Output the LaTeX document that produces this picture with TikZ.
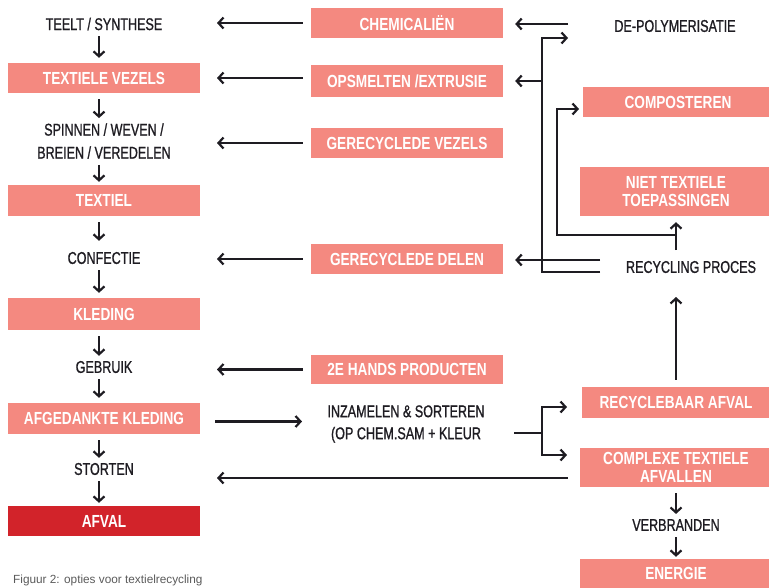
\documentclass[tikz,border=0pt]{standalone}
\usepackage{fontspec}
\setmainfont{Liberation Sans}[FakeStretch=0.74,FakeBold=1]
\newfontfamily\boxfont{Liberation Sans}[FakeStretch=0.78]
\newfontfamily\capfont{Liberation Sans}
\usetikzlibrary{arrows.meta}
\definecolor{salmon}{HTML}{F48980}
\definecolor{darkred}{HTML}{D2232A}
\definecolor{ink}{HTML}{1E1C22}
\definecolor{capgray}{HTML}{5A5A5A}
\begin{document}
\begin{tikzpicture}[x=1pt,y=-1pt,
  box/.style={fill=salmon, text=white, font=\boxfont\bfseries\fontsize{17.5}{18}\selectfont,
    minimum width=192pt, minimum height=30pt, inner sep=0pt, align=center},
  lbl/.style={text=ink, font=\fontsize{17}{18}\selectfont, inner sep=0pt, align=center},
  arr/.style={draw=ink, line width=2.2pt, -{Straight Barb[length=5pt,width=11pt]}},
  ln/.style={draw=ink, line width=2.2pt},
  vdn/.style={arr, shorten <=6pt, shorten >=5pt},
]
\useasboundingbox (0,0) rectangle (769,587);

% left column
\node[lbl] (teelt) at (104,24) {TEELT / SYNTHESE};
\node[box] (vezels) at (104,78) {TEXTIELE VEZELS};
\node[lbl, font=\fontsize{17}{23}\selectfont] (spin) at (104,141) {SPINNEN / WEVEN /\\BREIEN / VEREDELEN};
\node[box, minimum height=31pt] (textiel) at (104,200.5) {TEXTIEL};
\node[lbl] (conf) at (104,258) {CONFECTIE};
\node[box, minimum height=32pt] (kled) at (104,314) {KLEDING};
\node[lbl] (gebr) at (104,367) {GEBRUIK};
\node[box, minimum height=31pt] (afged) at (104,418.5) {AFGEDANKTE KLEDING};
\node[lbl] (stort) at (104,469) {STORTEN};
\node[box, fill=darkred] (afval) at (104,521) {AFVAL};
\node[anchor=base west, text=capgray, font=\capfont\fontsize{11.8}{13}\selectfont, inner sep=0pt] (cap) at (13,583.5) {Figuur 2: opties voor textielrecycling};

% middle column
\node[box] (chem) at (407,23) {CHEMICALIËN};
\node[box, minimum height=32pt] (opsm) at (407,81) {OPSMELTEN /EXTRUSIE};
\node[box] (gvez) at (407,143) {GERECYCLEDE VEZELS};
\node[box] (gdel) at (407,259) {GERECYCLEDE DELEN};
\node[box, minimum height=29pt] (hands) at (407,369.5) {2E HANDS PRODUCTEN};
\node[lbl, font=\fontsize{17}{22}\selectfont] (inz) at (406,424) {INZAMELEN \& SORTEREN\\(OP CHEM.SAM + KLEUR};

% right column
\node[lbl] (depol) at (675,26) {DE-POLYMERISATIE};
\node[box, minimum width=190pt] (comp) at (678,102) {COMPOSTEREN};
\node[box, minimum height=49pt] (niet) at (676,191.5) {NIET TEXTIELE\\TOEPASSINGEN};
\node[lbl] (rproc) at (691,267) {RECYCLING PROCES};
\node[box, minimum width=188pt, minimum height=31pt] (recyc) at (676,402.5) {RECYCLEBAAR AFVAL};
\node[box, minimum height=39pt] (compl) at (676,467.5) {COMPLEXE TEXTIELE\\AFVALLEN};
\node[lbl] (verbr) at (676,525) {VERBRANDEN};
\node[box, minimum height=29pt] (energ) at (676,573.5) {ENERGIE};

% helper coordinates
\coordinate (lx) at (217,0);
\coordinate (ix) at (302,0);
\coordinate (dpa) at (568,24);
\coordinate (t1) at (568,38);
\coordinate (bx) at (542,0);
\coordinate (r1) at (600,260);
\coordinate (r2) at (600,272);
\coordinate (n1) at (676,250);
\coordinate (b2) at (557,235);
\coordinate (c1) at (579,109);
\coordinate (u1) at (676,297);
\coordinate (s0) at (514,433);
\coordinate (sx) at (542,433);
\coordinate (s1) at (567,407);
\coordinate (s2) at (567,455);
\coordinate (y478) at (0,478);

% left column flow
\draw[vdn] ([xshift=-5pt]teelt.south) -- ([xshift=-5pt]vezels.north);
\draw[vdn] ([xshift=-5pt]vezels.south) -- ([xshift=-5pt]spin.north);
\draw[vdn, shorten >=3pt] ([xshift=-5pt]spin.south) -- ([xshift=-5pt]textiel.north);
\draw[vdn, shorten >=11pt] ([xshift=-5pt]textiel.south) -- ([xshift=-5pt]conf.north);
\draw[vdn] ([xshift=-5pt]conf.south) -- ([xshift=-5pt]kled.north);
\draw[vdn] ([xshift=-5pt]kled.south) -- ([xshift=-5pt]gebr.north);
\draw[vdn] ([xshift=-5pt]gebr.south) -- ([xshift=-5pt]afged.north);
\draw[vdn] ([xshift=-5pt]afged.south) -- ([xshift=-5pt]stort.north);
\draw[vdn, shorten >=3pt] ([xshift=-5pt]stort.south) -- ([xshift=-5pt]afval.north);

% middle to left
\draw[arr, shorten <=8pt] (chem.west) -- (chem.west -| lx);
\draw[arr, shorten <=8pt] (opsm.west |- vezels) -- (lx |- vezels);
\draw[arr, shorten <=8pt] (gvez.west) -- (gvez.west -| lx);
\draw[arr, shorten <=8pt] (gdel.west) -- (gdel.west -| lx);
\draw[arr, shorten <=8pt] (hands.west) -- (hands.west -| lx);
\draw[arr, shorten <=15pt] ([yshift=-3pt]afged.east) -- ([yshift=-3pt]afged.east -| ix);
\draw[arr, shorten <=12pt] (compl.west |- y478) -- (lx |- y478);

% recycling routes
\draw[arr, shorten >=12pt] (dpa) -- (chem.east |- dpa);
\draw[arr, shorten >=12pt] (r1) -- (gdel.east |- r1);
\draw[arr] (r2) -- (bx |- r2) -- (bx |- t1) -- (t1);
\draw[arr, shorten >=12pt] (bx |- opsm) -- (opsm.east);
\draw[arr, shorten >=6pt] (n1) -- (niet.south -| n1);
\draw[arr] (n1 |- b2) -- (b2) -- (b2 |- c1) -- (c1);
\draw[arr, shorten <=7pt] (recyc.north) -- (u1);

% sorting
\draw[ln] (s0) -- (sx);
\draw[arr] (sx) -- (sx |- s1) -- (s1);
\draw[arr] (sx) -- (sx |- s2) -- (s2);

% incineration
\draw[vdn] (compl.south) -- (verbr.north);
\draw[vdn, shorten >=2pt] (verbr.south) -- (energ.north);
\end{tikzpicture}
\end{document}
